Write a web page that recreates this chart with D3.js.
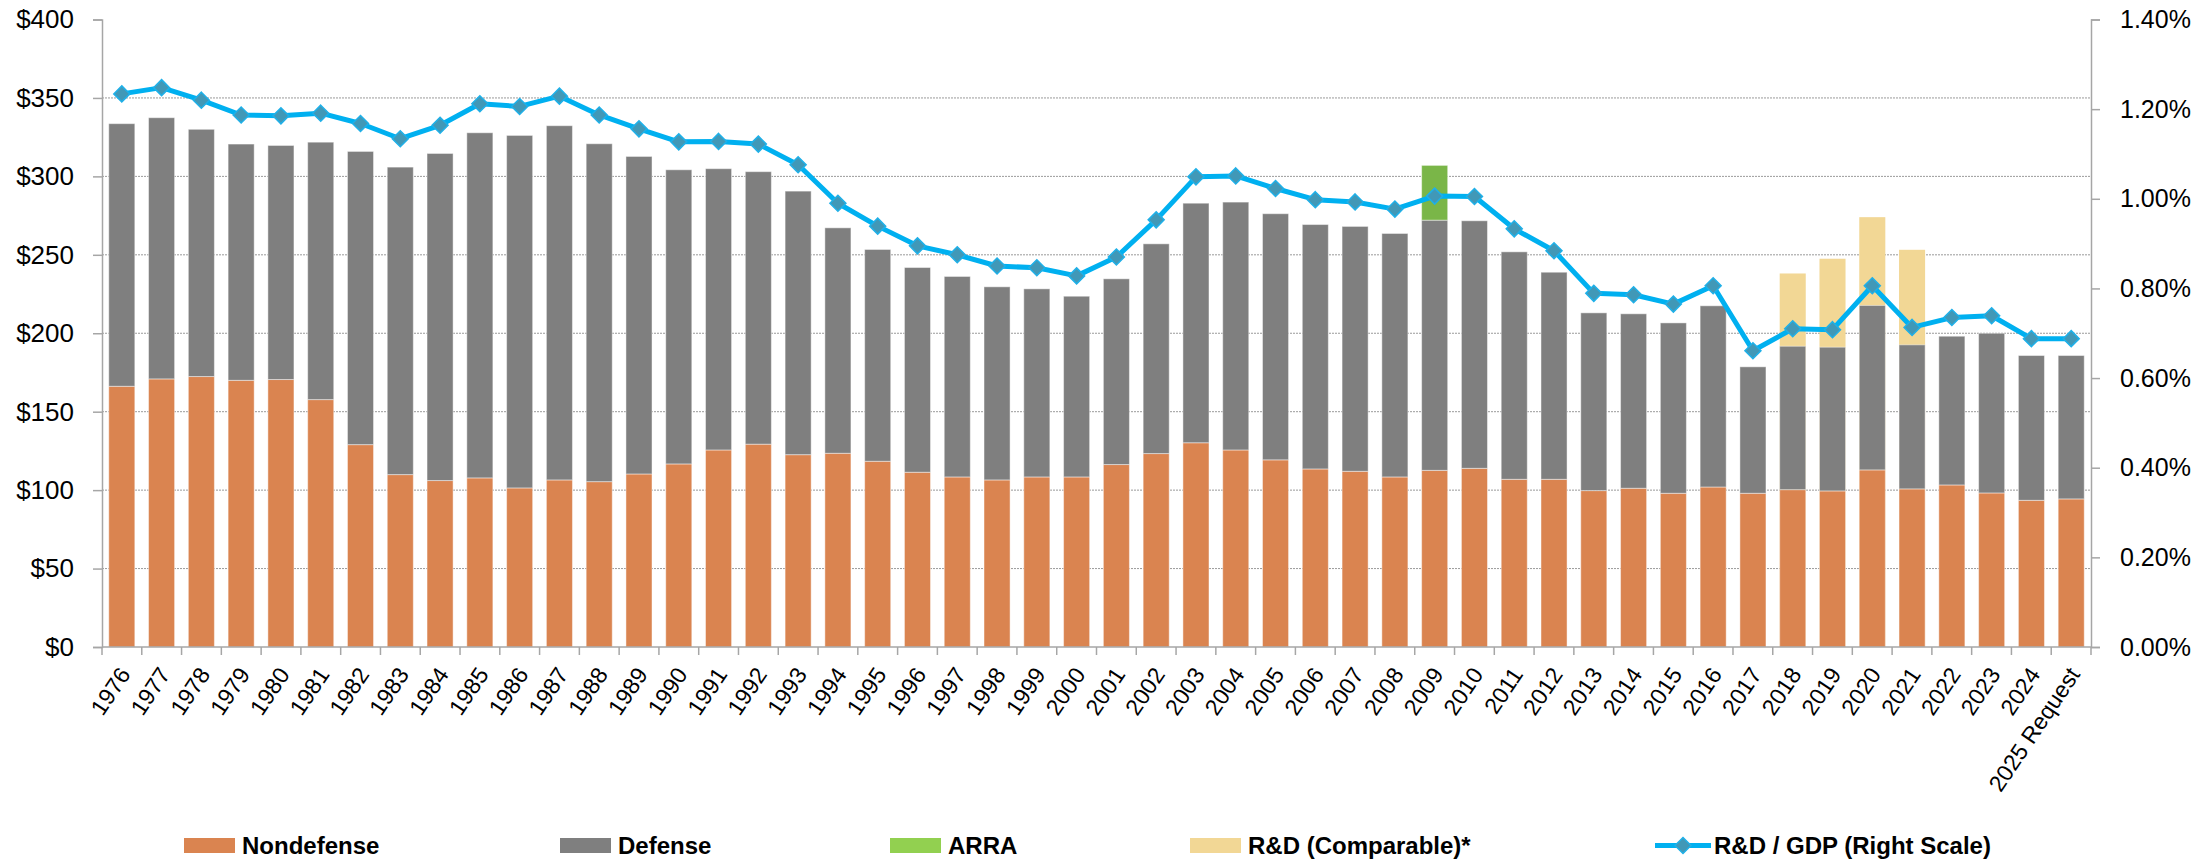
<!DOCTYPE html>
<html>
<head>
<meta charset="utf-8">
<script src="https://cdn.jsdelivr.net/npm/d3@7"></script>
<style>
    body { margin: 0; background: #fff; }
    svg { display: block; font-family: "Liberation Sans", Arial, sans-serif; }
</style>
</head>
<body>
<div id="chart"></div>
<script>
// Federal R&D spending by category (billions) with R&D as share of GDP on the right scale

const years = ["1976","1977","1978","1979","1980","1981","1982","1983","1984","1985",
    "1986","1987","1988","1989","1990","1991","1992","1993","1994","1995",
    "1996","1997","1998","1999","2000","2001","2002","2003","2004","2005",
    "2006","2007","2008","2009","2010","2011","2012","2013","2014","2015",
    "2016","2017","2018","2019","2020","2021","2022","2023","2024","2025 Request"];

const nondefense = [166.2,170.9,172.4,170.0,170.5,157.7,129.0,109.9,106.1,107.8,
    101.4,106.5,105.4,110.3,116.7,125.6,129.3,122.6,123.5,118.4,
    111.4,108.4,106.5,108.4,108.4,116.3,123.3,130.2,125.6,119.3,
    113.5,112.0,108.4,112.6,113.9,106.9,106.9,99.7,101.2,98.0,
    102.0,98.0,100.3,99.5,112.9,100.8,103.3,98.2,93.5,94.4];

const defense = [167.4,166.5,157.6,150.6,149.2,164.1,186.9,196.0,208.5,220.0,
    224.7,225.8,215.4,202.4,187.5,179.3,173.7,168.0,143.7,135.0,
    130.5,127.8,123.1,119.9,115.2,118.4,133.7,152.7,158.0,156.9,
    155.8,156.1,155.2,159.5,157.8,145.0,132.0,113.3,111.2,108.6,
    115.5,80.6,91.4,91.6,104.8,91.8,94.8,101.8,92.3,91.4];

const arra = [0,0,0,0,0,0,0,0,0,0, 0,0,0,0,0,0,0,0,0,0, 0,0,0,0,0,0,0,0,0,0,
    0,0,0,34.9,0,0,0,0,0,0, 0,0,0,0,0,0,0,0,0,0];

// total on a comparable basis, only for 2018-2021
const comparable = [null,null,null,null,null,null,null,null,null,null,
    null,null,null,null,null,null,null,null,null,null,
    null,null,null,null,null,null,null,null,null,null,
    null,null,null,null,null,null,null,null,null,null,
    null,null,238.1,247.5,274.0,253.2,null,null,null,null];

// R&D / GDP in percent
const gdpShare = [1.234,1.248,1.220,1.187,1.185,1.191,1.168,1.134,1.164,1.212,
    1.206,1.229,1.187,1.156,1.127,1.128,1.122,1.076,0.990,0.939,
    0.895,0.875,0.850,0.846,0.828,0.870,0.953,1.049,1.051,1.023,
    0.998,0.993,0.977,1.006,1.005,0.933,0.884,0.789,0.786,0.765,
    0.806,0.661,0.710,0.708,0.806,0.713,0.735,0.739,0.688,0.688];

const leftTicks = [0, 50, 100, 150, 200, 250, 300, 350, 400];
const rightTicks = [0, 0.2, 0.4, 0.6, 0.8, 1.0, 1.2, 1.4];

const legendItems = [
    { label: "Nondefense", color: "#da8450", type: "box" },
    { label: "Defense", color: "#7f7f7f", type: "box" },
    { label: "ARRA", color: "#92d050", type: "box" },
    { label: "R&D (Comparable)*", color: "#f2d795", type: "box" },
    { label: "R&D / GDP (Right Scale)", color: "#00b0f0", type: "line" }
];

const width = 2212;
const height = 860;
const margin = { top: 19.5, right: 121, bottom: 213, left: 102 };
const innerW = width - margin.left - margin.right;
const innerH = height - margin.top - margin.bottom;

const svg = d3.select("#chart")
    .append("svg")
    .attr("width", width)
    .attr("height", height);

const g = svg.append("g")
    .attr("transform", `translate(${margin.left},${margin.top})`);

const x = d3.scaleBand()
    .domain(years)
    .range([0, innerW])
    .paddingInner(0.345)
    .paddingOuter(0.17);

const y = d3.scaleLinear().domain([0, 400]).range([innerH, 0]);
const y2 = d3.scaleLinear().domain([0, 1.4]).range([innerH, 0]);

// gridlines (dotted)
g.selectAll(".grid")
    .data(leftTicks.filter(d => d > 0 && d < 400))
    .enter().append("line")
    .attr("x1", 0)
    .attr("x2", innerW)
    .attr("y1", d => y(d))
    .attr("y2", d => y(d))
    .attr("stroke", "#9a9a9a")
    .attr("stroke-width", 1)
    .attr("stroke-dasharray", "2,1");

// comparable bars go behind the stack
g.selectAll(".comp")
    .data(years.map((yr, i) => ({ yr, v: comparable[i] })).filter(d => d.v !== null))
    .enter().append("rect")
    .attr("x", d => x(d.yr))
    .attr("width", x.bandwidth())
    .attr("y", d => y(d.v))
    .attr("height", d => y(0) - y(d.v))
    .attr("fill", "#f2d795");

const rows = years.map((yr, i) => ({
    yr: yr,
    nondefense: nondefense[i],
    defense: defense[i],
    arra: arra[i]
}));

const stack = d3.stack().keys(["nondefense", "defense", "arra"]);
const colors = { nondefense: "#da8450", defense: "#7f7f7f", arra: "#7ab648" };

g.selectAll(".layer")
    .data(stack(rows))
    .enter().append("g")
    .attr("fill", d => colors[d.key])
    .selectAll("rect")
    .data(d => d.filter(s => s[1] - s[0] > 0))
    .enter().append("rect")
    .attr("x", d => x(d.data.yr))
    .attr("width", x.bandwidth())
    .attr("y", d => y(d[1]))
    .attr("height", d => y(d[0]) - y(d[1]))
    .attr("stroke", "rgba(255,255,255,0.45)")
    .attr("stroke-width", 1);

// left axis
const yAxis = g.append("g")
    .call(d3.axisLeft(y).tickValues(leftTicks).tickSize(9).tickPadding(19)
        .tickFormat(d => "$" + d));
yAxis.select(".domain").attr("stroke", "#a6a6a6").attr("stroke-width", 1.5);
yAxis.selectAll(".tick line").attr("stroke", "#a6a6a6").attr("stroke-width", 1.5);
yAxis.selectAll("text").attr("font-size", 26).attr("fill", "#000");

// right axis
const y2Axis = g.append("g")
    .attr("transform", `translate(${innerW},0)`)
    .call(d3.axisRight(y2).tickValues(rightTicks).tickSize(9).tickPadding(20)
        .tickFormat(d => d3.format(".2f")(d) + "%"));
y2Axis.select(".domain").attr("stroke", "#a6a6a6").attr("stroke-width", 1.5);
y2Axis.selectAll(".tick line").attr("stroke", "#a6a6a6").attr("stroke-width", 1.5);
y2Axis.selectAll("text").attr("font-size", 25).attr("fill", "#000");

// bottom axis: ticks sit between categories
const xAxis = g.append("g")
    .attr("transform", `translate(0,${innerH})`);
xAxis.append("line")
    .attr("x1", 0).attr("x2", innerW)
    .attr("stroke", "#a6a6a6").attr("stroke-width", 1.5);
const bounds = d3.range(years.length + 1).map(i => i * innerW / years.length);
xAxis.selectAll(".xt")
    .data(bounds)
    .enter().append("line")
    .attr("x1", d => d).attr("x2", d => d)
    .attr("y1", 0).attr("y2", 8)
    .attr("stroke", "#a6a6a6").attr("stroke-width", 1.5);
xAxis.selectAll(".xl")
    .data(years)
    .enter().append("text")
    .attr("transform", d => `translate(${x(d) + x.bandwidth() / 2 + 3},${23}) rotate(-56)`)
    .attr("text-anchor", "end")
    .attr("dy", "0.35em")
    .attr("font-size", 23)
    .attr("fill", "#000")
    .text(d => d);

// R&D / GDP line
const cx = d => x(d) + x.bandwidth() / 2;
const line = d3.line()
    .x((d, i) => cx(years[i]))
    .y(d => y2(d));

g.append("path")
    .datum(gdpShare)
    .attr("fill", "none")
    .attr("stroke", "#00b0f0")
    .attr("stroke-width", 5)
    .attr("stroke-linejoin", "round")
    .attr("d", line);

const diamond = "M0,-8L8,0L0,8L-8,0Z";
g.selectAll(".pt")
    .data(gdpShare)
    .enter().append("path")
    .attr("d", diamond)
    .attr("transform", (d, i) => `translate(${cx(years[i])},${y2(d)})`)
    .attr("fill", "#4198b7")
    .attr("stroke", "#1fb0e8")
    .attr("stroke-width", 1.5);

// legend
const legendX = [184, 560, 890, 1190, 1655];
const legend = svg.append("g").attr("transform", "translate(0,845.5)");
legendItems.forEach(function (item, i) {
    const lg = legend.append("g").attr("transform", `translate(${legendX[i]},0)`);
    if (item.type === "box") {
        lg.append("rect")
            .attr("x", 0).attr("y", -7.5)
            .attr("width", 51).attr("height", 15)
            .attr("fill", item.color);
    } else {
        lg.append("line")
            .attr("x1", 0).attr("x2", 56)
            .attr("stroke", item.color).attr("stroke-width", 5);
        lg.append("path")
            .attr("d", diamond)
            .attr("transform", "translate(28,0)")
            .attr("fill", "#4198b7")
            .attr("stroke", "#1fb0e8")
            .attr("stroke-width", 1.5);
    }
    lg.append("text")
        .attr("x", item.type === "box" ? 58 : 59)
        .attr("dy", "0.36em")
        .attr("font-size", 24)
        .attr("font-weight", "bold")
        .attr("fill", "#000")
        .text(item.label);
});
</script>
</body>
</html>
